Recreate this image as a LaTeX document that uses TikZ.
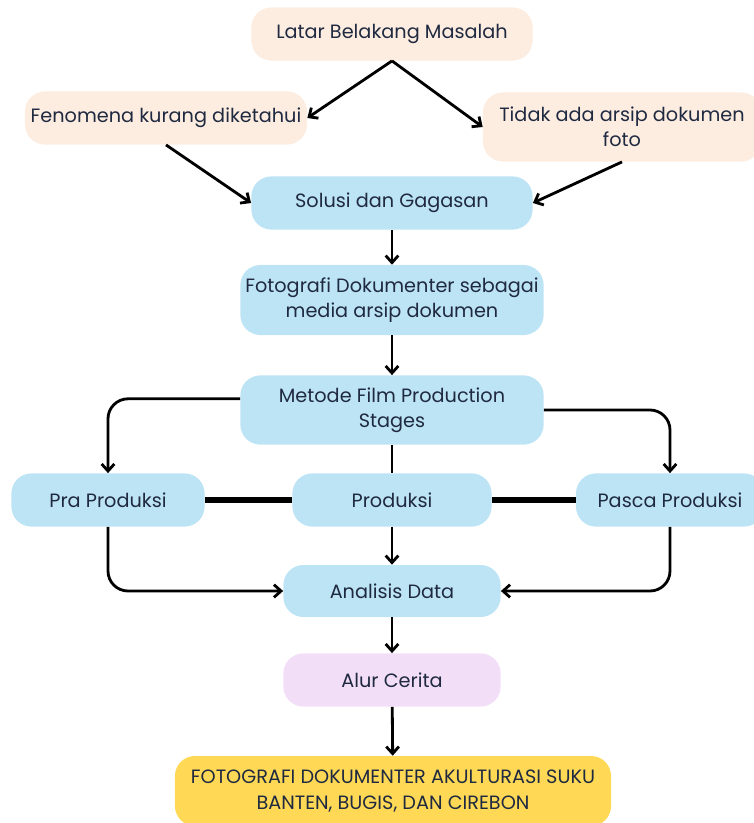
\documentclass[tikz,border=0pt]{standalone}
\usepackage{fontspec}
\setmainfont{Poppins}
\usetikzlibrary{arrows.meta}
\definecolor{peach}{HTML}{FDEDE1}
\definecolor{skyblue}{HTML}{BDE4F5}
\definecolor{lilac}{HTML}{F3DEF8}
\definecolor{sun}{HTML}{FFD955}
\definecolor{ink}{HTML}{1F2940}
\begin{document}
\begin{tikzpicture}[x=0.025cm,y=-0.025cm,
    box/.style={rounded corners=0.5cm, align=center, text=ink, inner sep=1pt,
      font=\fontsize{13.7}{18}\selectfont},
    arr/.style={-{Straight Barb[length=5pt,width=9pt]}, line width=2pt},
    link/.style={line width=2pt}]
                \useasboundingbox (0,0) rectangle (754,823);
                \node[box, fill=peach, minimum width=7.03cm, minimum height=1.33cm] (latar) at (392,34) {Latar Belakang Masalah};
                \node[box, fill=peach, minimum width=7.05cm, minimum height=1.33cm] (fenomena) at (166,118) {Fenomena kurang diketahui};
                \node[box, fill=peach, minimum width=6.95cm, minimum height=1.73cm] (arsip) at (622,127) {Tidak ada arsip dokumen\\foto};
                \node[box, fill=skyblue, minimum width=7.03cm, minimum height=1.33cm] (solusi) at (392,203) {Solusi dan Gagasan};
                \node[box, fill=skyblue, minimum width=7.58cm, minimum height=1.75cm] (media) at (392,300) {Fotografi Dokumenter sebagai\\media arsip dokumen};
                \node[box, fill=skyblue, minimum width=7.58cm, minimum height=1.73cm] (metode) at (392,410) {Metode Film Production\\Stages};
                \node[box, fill=skyblue, minimum width=4.83cm, minimum height=1.33cm] (pra) at (108,500) {Pra Produksi};
                \node[box, fill=skyblue, minimum width=4.98cm, minimum height=1.33cm] (produksi) at (392,500) {Produksi};
                \node[box, fill=skyblue, minimum width=4.7cm, minimum height=1.33cm] (pasca) at (670,500) {Pasca Produksi};
                \node[box, fill=skyblue, minimum width=5.43cm, minimum height=1.3cm] (analisis) at (392,591) {Analisis Data};
                \node[box, fill=lilac, minimum width=5.43cm, minimum height=1.33cm] (alur) at (392,680) {Alur Cerita};
                \node[box, fill=sun, minimum width=10.9cm, minimum height=1.75cm] (hasil) at (393,791) {FOTOGRAFI DOKUMENTER AKULTURASI SUKU\\BANTEN, BUGIS, DAN CIREBON};
                \draw[arr] (latar.south) -- (fenomena.east);
                \draw[arr] (latar.south) -- (arsip.west);
                \draw[arr] (fenomena.south) -- (solusi.west);
                \draw[arr] (arsip.south) -- (solusi.east);
                \draw[arr] (solusi) -- (media);
                \draw[arr] (media) -- (metode);
                \draw[arr, rounded corners=0.5cm] ([yshift=0.28cm]metode.west) -| (pra.north);
                \draw[arr, rounded corners=0.5cm] (metode.east) -| (pasca.north);
                \draw[link] (metode) -- (produksi);
                \draw[line width=3.6pt] (pra) -- (produksi);
                \draw[line width=3.6pt] (produksi) -- (pasca);
                \draw[arr] (produksi) -- (analisis);
                \draw[arr, rounded corners=0.5cm] (pra.south) |- (analisis.west);
                \draw[arr, rounded corners=0.5cm] (pasca.south) |- (analisis.east);
                \draw[arr] (analisis) -- (alur);
                \draw[arr] (alur) -- (hasil);
\end{tikzpicture}
\end{document}
